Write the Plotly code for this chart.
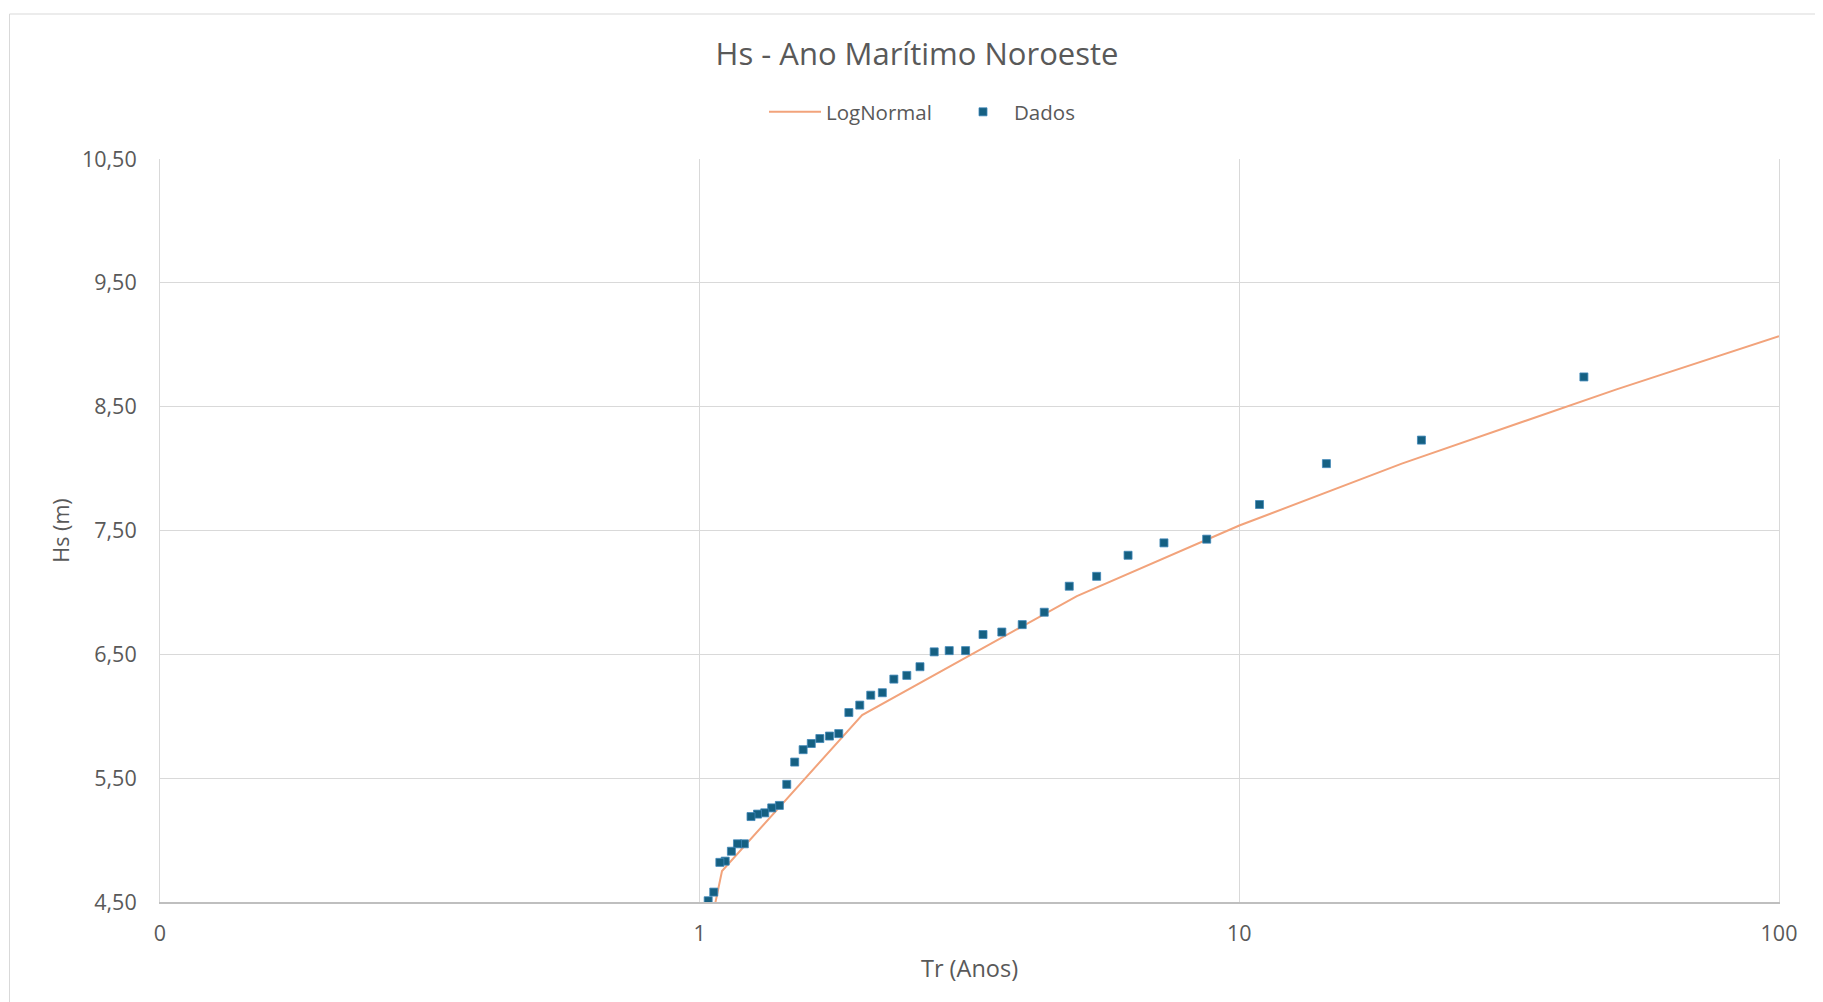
import plotly.graph_objects as go

# ---- data ----
tr_dados = [43.5, 21.75, 14.5, 10.9, 8.7, 7.25, 6.22, 5.44, 4.84, 4.35,
            3.96, 3.63, 3.35, 3.11, 2.90, 2.72, 2.56, 2.42, 2.29, 2.18,
            2.075, 1.98, 1.89, 1.81, 1.74, 1.67, 1.61, 1.555, 1.50, 1.45,
            1.405, 1.36, 1.32, 1.28, 1.245, 1.21, 1.175, 1.145, 1.115, 1.09,
            1.062, 1.037]
hs_dados = [8.74, 8.23, 8.04, 7.71, 7.43, 7.40, 7.30, 7.13, 7.05, 6.84,
            6.74, 6.68, 6.66, 6.53, 6.53, 6.52, 6.40, 6.33, 6.30, 6.19,
            6.17, 6.09, 6.03, 5.86, 5.84, 5.82, 5.78, 5.73, 5.63, 5.45,
            5.28, 5.26, 5.22, 5.21, 5.19, 4.97, 4.97, 4.91, 4.83, 4.82,
            4.58, 4.51]

tr_lognormal = [1.01, 1.1, 2, 5, 10, 20, 50, 100]
hs_lognormal = [3.98, 4.75, 6.01, 6.97, 7.54, 8.04, 8.64, 9.07]

x_tickvals = [0.1, 1, 10, 100]
x_ticktext = ["0", "1", "10", "100"]

title_text = "Hs - Ano Marítimo Noroeste"
FONT = "Open Sans"
TXT = "#595959"

OFF = 8  # page body margin
W, H = 1815, 994
L, R, T, B = 152, 44, 151, 100

fig = go.Figure()
fig.add_trace(go.Scatter(
    x=tr_lognormal, y=hs_lognormal, mode="lines", name="LogNormal",
    line=dict(color="#F2A37B", width=2),
))
fig.add_trace(go.Scatter(
    x=tr_dados, y=hs_dados, mode="markers", name="Dados",
    marker=dict(symbol="square", size=8, color="#156082",
                line=dict(color="#3f86b8", width=0.8)),
))

pw = W - L - R
ph = H - T - B

def px_x(p):  # page pixel -> paper x
    return (p - OFF - L) / pw

def px_y(p):  # page pixel -> paper y
    return (H - B - (p - OFF)) / ph

# chart frame (Excel chart area border)
fig.add_shape(type="rect", xref="paper", yref="paper",
              x0=px_x(9.5), x1=px_x(1840), y0=px_y(1020), y1=px_y(14),
              line=dict(color="#d9d9d9", width=1), fillcolor="rgba(0,0,0,0)",
              layer="below")

fig.update_layout(
    width=W, height=H,
    margin=dict(l=L, r=R, t=T, b=B),
    paper_bgcolor="white", plot_bgcolor="white",
    separators=",.",
    font=dict(family=FONT, color=TXT, size=20),
    title=dict(text=title_text, x=(917 - OFF) / W, xref="container",
               xanchor="center",
               y=1 - (54 - OFF) / H, yref="container", yanchor="middle",
               font=dict(size=31, color=TXT, family=FONT)),
    legend=dict(orientation="h", x=px_x(764), xanchor="left",
                y=px_y(112), yanchor="middle",
                font=dict(size=20.5, color=TXT, family=FONT),
                itemwidth=52, entrywidth=121, entrywidthmode="pixels",
                bgcolor="rgba(0,0,0,0)"),
    showlegend=True,
)

fig.update_xaxes(
    type="log", range=[-1, 2],
    tickvals=x_tickvals, ticktext=x_ticktext,
    showgrid=True, gridcolor="#d9d9d9", gridwidth=1,
    showline=True, linecolor="#bfbfbf", linewidth=1.5,
    ticks="", zeroline=False,
    tickfont=dict(size=21.5, color=TXT, family=FONT),
    ticklabelstandoff=11,
    title=dict(text="Tr (Anos)", font=dict(size=23.5, color=TXT, family=FONT),
               standoff=15),
)
fig.update_yaxes(
    range=[4.5, 10.5], dtick=1, tick0=4.5, tickformat=".2f",
    showgrid=True, gridcolor="#d9d9d9", gridwidth=1,
    showline=True, linecolor="#d9d9d9", linewidth=1, mirror=True,
    ticks="", zeroline=False,
    tickfont=dict(size=21.5, color=TXT, family=FONT),
    ticklabelstandoff=18,
    title=dict(text="Hs (m)", font=dict(size=21.5, color=TXT, family=FONT),
               standoff=6),
)

fig.write_html("out.html")
